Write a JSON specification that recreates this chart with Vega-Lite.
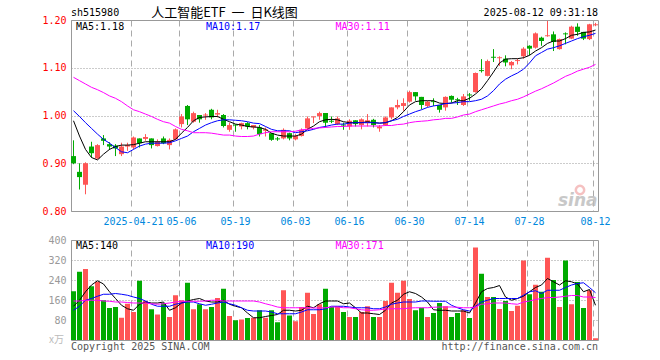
{
"$schema": "https://vega.github.io/schema/vega-lite/v6.json",
"background": "white",
"padding": {"left": 40, "top": 6, "right": 5, "bottom": 5},
"bounds": "flush",
"spacing": 29,
"config": {
  "view": {"stroke": "#999", "strokeWidth": 1},
  "font": "DejaVu Sans Mono",
  "axis": {"labelFont": "DejaVu Sans Mono", "labelFontSize": 10, "domain": false, "ticks": false, "title": null, "labelOverlap": false}
},
"datasets": {"k": [
{"d":"2025-04-07","o":0.915,"h":0.948,"l":0.898,"c":0.900,"v":195,"m5":0.989,"m10":1.010,"m30":1.080,"v5":135,"v10":119,"v30":156},
{"d":"2025-04-08","o":0.882,"h":0.900,"l":0.845,"c":0.871,"v":273,"m5":0.957,"m10":0.998,"m30":1.073,"v5":159,"v10":135,"v30":156},
{"d":"2025-04-09","o":0.855,"h":0.902,"l":0.835,"c":0.900,"v":284,"m5":0.929,"m10":0.985,"m30":1.066,"v5":193,"v10":159,"v30":159},
{"d":"2025-04-10","o":0.935,"h":0.945,"l":0.912,"c":0.921,"v":215,"m5":0.912,"m10":0.973,"m30":1.059,"v5":220,"v10":166,"v30":159},
{"d":"2025-04-11","o":0.910,"h":0.940,"l":0.908,"c":0.938,"v":233,"m5":0.907,"m10":0.961,"m30":1.054,"v5":237,"v10":175,"v30":159},
{"d":"2025-04-14","o":0.952,"h":0.959,"l":0.938,"c":0.947,"v":159,"m5":0.919,"m10":0.950,"m30":1.048,"v5":224,"v10":183,"v30":156},
{"d":"2025-04-15","o":0.940,"h":0.944,"l":0.928,"c":0.935,"v":128,"m5":0.929,"m10":0.942,"m30":1.041,"v5":193,"v10":183,"v30":155},
{"d":"2025-04-16","o":0.937,"h":0.940,"l":0.915,"c":0.931,"v":132,"m5":0.935,"m10":0.933,"m30":1.036,"v5":166,"v10":186,"v30":152},
{"d":"2025-04-17","o":0.919,"h":0.943,"l":0.915,"c":0.935,"v":89,"m5":0.938,"m10":0.924,"m30":1.029,"v5":139,"v10":183,"v30":152},
{"d":"2025-04-18","o":0.935,"h":0.943,"l":0.926,"c":0.938,"v":145,"m5":0.938,"m10":0.922,"m30":1.020,"v5":125,"v10":179,"v30":150},
{"d":"2025-04-21","o":0.933,"h":0.956,"l":0.929,"c":0.954,"v":112,"m5":0.939,"m10":0.929,"m30":1.012,"v5":119,"v10":172,"v30":148},
{"d":"2025-04-22","o":0.952,"h":0.952,"l":0.933,"c":0.942,"v":237,"m5":0.942,"m10":0.936,"m30":1.008,"v5":143,"v10":166,"v30":148},
{"d":"2025-04-23","o":0.951,"h":0.961,"l":0.947,"c":0.955,"v":156,"m5":0.945,"m10":0.940,"m30":1.003,"v5":152,"v10":156,"v30":148},
{"d":"2025-04-24","o":0.952,"h":0.952,"l":0.931,"c":0.938,"v":123,"m5":0.945,"m10":0.942,"m30":0.998,"v5":148,"v10":143,"v30":145},
{"d":"2025-04-25","o":0.936,"h":0.950,"l":0.935,"c":0.945,"v":102,"m5":0.945,"m10":0.942,"m30":0.992,"v5":148,"v10":135,"v30":143},
{"d":"2025-04-28","o":0.952,"h":0.956,"l":0.940,"c":0.942,"v":148,"m5":0.945,"m10":0.942,"m30":0.987,"v5":152,"v10":135,"v30":145},
{"d":"2025-04-29","o":0.938,"h":0.952,"l":0.929,"c":0.949,"v":92,"m5":0.945,"m10":0.943,"m30":0.984,"v5":119,"v10":135,"v30":148},
{"d":"2025-04-30","o":0.950,"h":0.973,"l":0.949,"c":0.971,"v":179,"m5":0.950,"m10":0.947,"m30":0.977,"v5":129,"v10":143,"v30":152},
{"d":"2025-05-06","o":0.982,"h":1.003,"l":0.975,"c":0.998,"v":159,"m5":0.963,"m10":0.952,"m30":0.971,"v5":148,"v10":148,"v30":155},
{"d":"2025-05-07","o":1.020,"h":1.022,"l":0.980,"c":0.992,"v":229,"m5":0.975,"m10":0.957,"m30":0.968,"v5":156,"v10":152,"v30":155},
{"d":"2025-05-08","o":0.987,"h":1.008,"l":0.985,"c":1.005,"v":123,"m5":0.989,"m10":0.966,"m30":0.964,"v5":162,"v10":152,"v30":155},
{"d":"2025-05-09","o":1.001,"h":1.001,"l":0.985,"c":0.992,"v":143,"m5":0.996,"m10":0.973,"m30":0.964,"v5":166,"v10":145,"v30":155},
{"d":"2025-05-12","o":1.000,"h":1.005,"l":0.991,"c":1.002,"v":123,"m5":0.997,"m10":0.980,"m30":0.964,"v5":156,"v10":139,"v30":156},
{"d":"2025-05-13","o":1.012,"h":1.014,"l":0.992,"c":0.996,"v":132,"m5":0.998,"m10":0.985,"m30":0.963,"v5":152,"v10":143,"v30":159},
{"d":"2025-05-14","o":1.002,"h":1.012,"l":0.996,"c":1.005,"v":168,"m5":0.998,"m10":0.989,"m30":0.961,"v5":152,"v10":148,"v30":159},
{"d":"2025-05-15","o":1.001,"h":1.003,"l":0.975,"c":0.978,"v":205,"m5":0.992,"m10":0.991,"m30":0.959,"v5":159,"v10":152,"v30":156},
{"d":"2025-05-16","o":0.970,"h":0.985,"l":0.966,"c":0.980,"v":96,"m5":0.987,"m10":0.991,"m30":0.959,"v5":143,"v10":145,"v30":156},
{"d":"2025-05-19","o":0.981,"h":0.981,"l":0.966,"c":0.979,"v":79,"m5":0.982,"m10":0.990,"m30":0.957,"v5":135,"v10":139,"v30":156},
{"d":"2025-05-20","o":0.977,"h":0.985,"l":0.971,"c":0.984,"v":82,"m5":0.980,"m10":0.989,"m30":0.956,"v5":129,"v10":129,"v30":156},
{"d":"2025-05-21","o":0.984,"h":0.986,"l":0.971,"c":0.977,"v":88,"m5":0.977,"m10":0.987,"m30":0.956,"v5":108,"v10":119,"v30":156},
{"d":"2025-05-22","o":0.975,"h":0.980,"l":0.971,"c":0.980,"v":89,"m5":0.976,"m10":0.984,"m30":0.957,"v5":89,"v10":116,"v30":156},
{"d":"2025-05-23","o":0.975,"h":0.980,"l":0.956,"c":0.961,"v":119,"m5":0.975,"m10":0.983,"m30":0.961,"v5":89,"v10":116,"v30":152},
{"d":"2025-05-26","o":0.968,"h":0.975,"l":0.956,"c":0.971,"v":89,"m5":0.971,"m10":0.977,"m30":0.964,"v5":94,"v10":116,"v30":145},
{"d":"2025-05-27","o":0.963,"h":0.963,"l":0.947,"c":0.949,"v":119,"m5":0.963,"m10":0.971,"m30":0.966,"v5":98,"v10":112,"v30":139},
{"d":"2025-05-28","o":0.952,"h":0.955,"l":0.947,"c":0.950,"v":71,"m5":0.959,"m10":0.968,"m30":0.966,"v5":102,"v10":105,"v30":132},
{"d":"2025-05-29","o":0.952,"h":0.973,"l":0.950,"c":0.970,"v":199,"m5":0.957,"m10":0.968,"m30":0.966,"v5":119,"v10":105,"v30":129},
{"d":"2025-05-30","o":0.963,"h":0.964,"l":0.948,"c":0.952,"v":98,"m5":0.957,"m10":0.968,"m30":0.966,"v5":119,"v10":105,"v30":129},
{"d":"2025-06-03","o":0.950,"h":0.961,"l":0.948,"c":0.957,"v":75,"m5":0.957,"m10":0.964,"m30":0.967,"v5":116,"v10":105,"v30":129},
{"d":"2025-06-04","o":0.957,"h":0.973,"l":0.956,"c":0.970,"v":132,"m5":0.961,"m10":0.966,"m30":0.970,"v5":119,"v10":112,"v30":129},
{"d":"2025-06-05","o":0.973,"h":0.998,"l":0.971,"c":0.994,"v":189,"m5":0.971,"m10":0.968,"m30":0.971,"v5":135,"v10":121,"v30":129},
{"d":"2025-06-06","o":0.996,"h":0.998,"l":0.984,"c":0.998,"v":104,"m5":0.978,"m10":0.971,"m30":0.973,"v5":129,"v10":121,"v30":128},
{"d":"2025-06-09","o":0.999,"h":1.008,"l":0.991,"c":1.005,"v":143,"m5":0.987,"m10":0.975,"m30":0.974,"v5":145,"v10":121,"v30":128},
{"d":"2025-06-10","o":1.005,"h":1.005,"l":0.975,"c":0.985,"v":205,"m5":0.991,"m10":0.977,"m30":0.975,"v5":156,"v10":125,"v30":129},
{"d":"2025-06-11","o":0.989,"h":0.998,"l":0.984,"c":0.987,"v":132,"m5":0.992,"m10":0.980,"m30":0.976,"v5":156,"v10":135,"v30":132},
{"d":"2025-06-12","o":0.982,"h":0.998,"l":0.980,"c":0.994,"v":135,"m5":0.991,"m10":0.982,"m30":0.977,"v5":156,"v10":135,"v30":132},
{"d":"2025-06-13","o":0.981,"h":0.985,"l":0.970,"c":0.979,"v":112,"m5":0.987,"m10":0.982,"m30":0.977,"v5":145,"v10":135,"v30":129},
{"d":"2025-06-16","o":0.977,"h":0.992,"l":0.970,"c":0.989,"v":92,"m5":0.985,"m10":0.984,"m30":0.978,"v5":148,"v10":132,"v30":129},
{"d":"2025-06-17","o":0.990,"h":0.990,"l":0.977,"c":0.982,"v":92,"m5":0.985,"m10":0.985,"m30":0.978,"v5":129,"v10":129,"v30":125},
{"d":"2025-06-18","o":0.980,"h":0.994,"l":0.971,"c":0.992,"v":112,"m5":0.985,"m10":0.985,"m30":0.978,"v5":108,"v10":129,"v30":121},
{"d":"2025-06-19","o":0.984,"h":1.003,"l":0.977,"c":0.990,"v":135,"m5":0.987,"m10":0.985,"m30":0.978,"v5":108,"v10":129,"v30":119},
{"d":"2025-06-20","o":0.991,"h":0.993,"l":0.975,"c":0.980,"v":92,"m5":0.985,"m10":0.985,"m30":0.978,"v5":105,"v10":125,"v30":119},
{"d":"2025-06-23","o":0.973,"h":0.980,"l":0.966,"c":0.977,"v":92,"m5":0.984,"m10":0.984,"m30":0.978,"v5":102,"v10":125,"v30":121},
{"d":"2025-06-24","o":0.980,"h":0.998,"l":0.978,"c":0.996,"v":156,"m5":0.985,"m10":0.985,"m30":0.979,"v5":119,"v10":132,"v30":124},
{"d":"2025-06-25","o":0.996,"h":1.017,"l":0.992,"c":1.017,"v":229,"m5":0.989,"m10":0.989,"m30":0.979,"v5":148,"v10":143,"v30":125},
{"d":"2025-06-26","o":1.017,"h":1.033,"l":1.013,"c":1.022,"v":189,"m5":0.996,"m10":0.992,"m30":0.981,"v5":159,"v10":148,"v30":125},
{"d":"2025-06-27","o":1.020,"h":1.036,"l":1.010,"c":1.026,"v":237,"m5":1.008,"m10":0.998,"m30":0.982,"v5":183,"v10":152,"v30":125},
{"d":"2025-06-30","o":1.029,"h":1.052,"l":1.027,"c":1.049,"v":164,"m5":1.022,"m10":1.003,"m30":0.985,"v5":193,"v10":152,"v30":128},
{"d":"2025-07-01","o":1.049,"h":1.049,"l":1.031,"c":1.040,"v":119,"m5":1.029,"m10":1.008,"m30":0.987,"v5":186,"v10":152,"v30":129},
{"d":"2025-07-02","o":1.039,"h":1.039,"l":1.013,"c":1.022,"v":129,"m5":1.031,"m10":1.012,"m30":0.988,"v5":172,"v10":156,"v30":129},
{"d":"2025-07-03","o":1.020,"h":1.031,"l":1.017,"c":1.029,"v":92,"m5":1.031,"m10":1.017,"m30":0.989,"v5":152,"v10":156,"v30":129},
{"d":"2025-07-04","o":1.030,"h":1.036,"l":1.020,"c":1.028,"v":108,"m5":1.031,"m10":1.020,"m30":0.991,"v5":121,"v10":155,"v30":131},
{"d":"2025-07-07","o":1.022,"h":1.022,"l":1.006,"c":1.012,"v":148,"m5":1.026,"m10":1.022,"m30":0.992,"v5":119,"v10":155,"v30":132},
{"d":"2025-07-08","o":1.017,"h":1.040,"l":1.010,"c":1.039,"v":135,"m5":1.025,"m10":1.025,"m30":0.994,"v5":119,"v10":155,"v30":132},
{"d":"2025-07-09","o":1.041,"h":1.042,"l":1.027,"c":1.033,"v":92,"m5":1.026,"m10":1.026,"m30":0.994,"v5":116,"v10":139,"v30":132},
{"d":"2025-07-10","o":1.034,"h":1.037,"l":1.022,"c":1.032,"v":108,"m5":1.031,"m10":1.027,"m30":0.997,"v5":116,"v10":129,"v30":131},
{"d":"2025-07-11","o":1.022,"h":1.045,"l":1.020,"c":1.040,"v":119,"m5":1.031,"m10":1.029,"m30":1.001,"v5":116,"v10":121,"v30":129},
{"d":"2025-07-14","o":1.044,"h":1.047,"l":1.031,"c":1.042,"v":88,"m5":1.036,"m10":1.029,"m30":1.003,"v5":108,"v10":116,"v30":129},
{"d":"2025-07-15","o":1.049,"h":1.090,"l":1.048,"c":1.089,"v":370,"m5":1.045,"m10":1.031,"m30":1.008,"v5":148,"v10":135,"v30":132},
{"d":"2025-07-16","o":1.095,"h":1.118,"l":1.090,"c":1.093,"v":265,"m5":1.056,"m10":1.034,"m30":1.012,"v5":193,"v10":152,"v30":143},
{"d":"2025-07-17","o":1.083,"h":1.117,"l":1.082,"c":1.114,"v":172,"m5":1.073,"m10":1.041,"m30":1.016,"v5":206,"v10":159,"v30":145},
{"d":"2025-07-18","o":1.123,"h":1.139,"l":1.112,"c":1.121,"v":172,"m5":1.091,"m10":1.052,"m30":1.020,"v5":210,"v10":166,"v30":148},
{"d":"2025-07-21","o":1.120,"h":1.124,"l":1.104,"c":1.122,"v":124,"m5":1.110,"m10":1.066,"m30":1.024,"v5":218,"v10":166,"v30":148},
{"d":"2025-07-22","o":1.119,"h":1.126,"l":1.103,"c":1.111,"v":156,"m5":1.118,"m10":1.076,"m30":1.027,"v5":172,"v10":166,"v30":148},
{"d":"2025-07-23","o":1.105,"h":1.114,"l":1.097,"c":1.112,"v":116,"m5":1.119,"m10":1.083,"m30":1.031,"v5":159,"v10":166,"v30":145},
{"d":"2025-07-24","o":1.114,"h":1.119,"l":1.107,"c":1.116,"v":137,"m5":1.119,"m10":1.089,"m30":1.034,"v5":166,"v10":166,"v30":143},
{"d":"2025-07-25","o":1.124,"h":1.143,"l":1.119,"c":1.140,"v":318,"m5":1.121,"m10":1.097,"m30":1.039,"v5":175,"v10":179,"v30":152},
{"d":"2025-07-28","o":1.146,"h":1.147,"l":1.126,"c":1.140,"v":183,"m5":1.126,"m10":1.110,"m30":1.045,"v5":193,"v10":193,"v30":156},
{"d":"2025-07-29","o":1.142,"h":1.174,"l":1.140,"c":1.172,"v":221,"m5":1.135,"m10":1.125,"m30":1.051,"v5":210,"v10":197,"v30":162},
{"d":"2025-07-30","o":1.163,"h":1.165,"l":1.146,"c":1.156,"v":193,"m5":1.142,"m10":1.132,"m30":1.056,"v5":220,"v10":186,"v30":166},
{"d":"2025-07-31","o":1.166,"h":1.198,"l":1.165,"c":1.168,"v":329,"m5":1.151,"m10":1.139,"m30":1.062,"v5":246,"v10":199,"v30":170},
{"d":"2025-08-01","o":1.170,"h":1.176,"l":1.135,"c":1.154,"v":240,"m5":1.156,"m10":1.142,"m30":1.068,"v5":233,"v10":199,"v30":170},
{"d":"2025-08-04","o":1.139,"h":1.161,"l":1.138,"c":1.160,"v":132,"m5":1.156,"m10":1.146,"m30":1.075,"v5":220,"v10":199,"v30":172},
{"d":"2025-08-05","o":1.172,"h":1.174,"l":1.149,"c":1.170,"v":318,"m5":1.161,"m10":1.151,"m30":1.082,"v5":237,"v10":210,"v30":175},
{"d":"2025-08-06","o":1.161,"h":1.188,"l":1.160,"c":1.186,"v":143,"m5":1.168,"m10":1.156,"m30":1.087,"v5":233,"v10":220,"v30":178},
{"d":"2025-08-07","o":1.186,"h":1.193,"l":1.167,"c":1.175,"v":232,"m5":1.170,"m10":1.161,"m30":1.093,"v5":224,"v10":226,"v30":178},
{"d":"2025-08-08","o":1.175,"h":1.175,"l":1.158,"c":1.161,"v":128,"m5":1.174,"m10":1.165,"m30":1.097,"v5":193,"v10":229,"v30":172},
{"d":"2025-08-11","o":1.160,"h":1.192,"l":1.158,"c":1.191,"v":199,"m5":1.175,"m10":1.168,"m30":1.101,"v5":202,"v10":210,"v30":172},
{"d":"2025-08-12","o":1.189,"h":1.194,"l":1.187,"c":1.191,"v":7,"m5":1.179,"m10":1.172,"m30":1.107,"v5":139,"v10":189,"v30":170}
]},
"vconcat": [
{
  "width": 527, "height": 191,
  "layer": [
    {"data": {"name": "k"}, "mark": {"type": "rule", "strokeWidth": 1},
     "encoding": {
       "x": {"field": "d", "type": "ordinal", "scale": {"type": "band", "paddingInner": 0.1667, "paddingOuter": 0},
             "axis": {"values": ["2025-04-21","2025-05-06","2025-05-19","2025-06-03","2025-06-16","2025-06-30","2025-07-14","2025-07-28","2025-08-12"],
                      "bandPosition": 0, "labelAngle": 0, "labelColor": "#0088dd", "labelPadding": 5, "labelOverlap": false,
                      "labelExpr": "datum.value == '2025-04-21' ? datum.value : slice(datum.value, 5)",
                      "grid": true, "gridDash": [6, 4], "gridColor": "#aaa", "title": null}},
       "y": {"field": "l", "type": "quantitative", "scale": {"domain": [0.8, 1.2], "zero": false, "nice": false},
             "axis": {"values": [0.8, 0.9, 1.0, 1.1, 1.2], "tickCount": 10, "format": ".2f", "labelColor": "#ff0000", "labelPadding": 5, "labelOverlap": false,
                      "grid": true, "gridDash": [1, 2], "gridColor": "#999", "minExtent": 30, "title": null}},
       "y2": {"field": "h"},
       "color": {"condition": {"test": "datum.c >= datum.o", "value": "#ff5555"}, "value": "#00aa00"}
     }},
    {"data": {"name": "k"}, "mark": {"type": "bar"},
     "encoding": {
       "x": {"field": "d", "type": "ordinal"},
       "y": {"field": "o", "type": "quantitative"},
       "y2": {"field": "c"},
       "color": {"condition": {"test": "datum.c >= datum.o", "value": "#ff5555"}, "value": "#00aa00"}
     }},
    {"data": {"name": "k"}, "mark": {"type": "line", "color": "#000000", "strokeWidth": 1},
     "encoding": {"x": {"field": "d", "type": "ordinal"}, "y": {"field": "m5", "type": "quantitative"}}},
    {"data": {"name": "k"}, "mark": {"type": "line", "color": "#0000ff", "strokeWidth": 1},
     "encoding": {"x": {"field": "d", "type": "ordinal"}, "y": {"field": "m10", "type": "quantitative"}}},
    {"data": {"name": "k"}, "mark": {"type": "line", "color": "#ff00ff", "strokeWidth": 1},
     "encoding": {"x": {"field": "d", "type": "ordinal"}, "y": {"field": "m30", "type": "quantitative"}}},
    {"data": {"values": [{"t": "MA5:1.18", "x": "2025-04-07"}]},
     "mark": {"type": "text", "align": "left", "baseline": "middle", "dx": 2.5, "dy": 7, "fontSize": 10, "font": "DejaVu Sans Mono", "color": "#000000"},
     "encoding": {"x": {"field": "x", "type": "ordinal"}, "y": {"datum": 1.2, "type": "quantitative"}, "text": {"field": "t"}}},
    {"data": {"values": [{"t": "MA10:1.17", "x": "2025-05-12"}]},
     "mark": {"type": "text", "align": "left", "baseline": "middle", "dx": 0.5, "dy": 7, "fontSize": 10, "font": "DejaVu Sans Mono", "color": "#0000ff"},
     "encoding": {"x": {"field": "x", "type": "ordinal"}, "y": {"datum": 1.2, "type": "quantitative"}, "text": {"field": "t"}}},
    {"data": {"values": [{"t": "MA30:1.11", "x": "2025-06-12"}]},
     "mark": {"type": "text", "align": "left", "baseline": "middle", "dx": -2, "dy": 7, "fontSize": 10, "font": "DejaVu Sans Mono", "color": "#ff00ff"},
     "encoding": {"x": {"field": "x", "type": "ordinal"}, "y": {"datum": 1.2, "type": "quantitative"}, "text": {"field": "t"}}},
    {"data": {"values": [{"t": "sh515980", "x": "2025-04-07"}]},
     "mark": {"type": "text", "align": "left", "baseline": "middle", "dx": -2.5, "dy": -7, "fontSize": 10, "font": "DejaVu Sans Mono", "color": "#000000"},
     "encoding": {"x": {"field": "x", "type": "ordinal"}, "y": {"datum": 1.2, "type": "quantitative"}, "text": {"field": "t"}}},
    {"data": {"values": [{"t": "人工智能ETF\u00a0\u00a0一\u00a0\u00a0日K线图", "x": "2025-05-15"}]},
     "mark": {"type": "text", "align": "center", "baseline": "middle", "dx": 1, "dy": -7.5, "fontSize": 13, "font": "Noto Sans CJK SC", "color": "#000000"},
     "encoding": {"x": {"field": "x", "type": "ordinal"}, "y": {"datum": 1.2, "type": "quantitative"}, "text": {"field": "t"}}},
    {"data": {"values": [{"t": "2025-08-12 09:31:18", "x": "2025-08-12"}]},
     "mark": {"type": "text", "align": "right", "baseline": "middle", "dx": 2.5, "dy": -7, "fontSize": 10, "font": "DejaVu Sans Mono", "color": "#000000"},
     "encoding": {"x": {"field": "x", "type": "ordinal"}, "y": {"datum": 1.2, "type": "quantitative"}, "text": {"field": "t"}}},
    {"data": {"values": [{"x": "2025-08-07"}]},
     "mark": {"type": "point", "shape": "circle", "filled": false, "size": 70, "strokeWidth": 2.5, "color": "#f2a8a8", "opacity": 0.7, "xOffset": 2.5, "yOffset": -21},
     "encoding": {"x": {"field": "x", "type": "ordinal"}, "y": {"datum": 0.8, "type": "quantitative"}}},
    {"data": {"values": [{"t": "sina", "x": "2025-08-12"}]},
     "mark": {"type": "text", "align": "right", "baseline": "middle", "dx": 2, "dy": -10, "fontSize": 17, "fontWeight": "bold", "fontStyle": "italic", "font": "DejaVu Sans", "color": "#bbbbbb", "opacity": 0.8},
     "encoding": {"x": {"field": "x", "type": "ordinal"}, "y": {"datum": 0.8, "type": "quantitative"}, "text": {"field": "t"}}}
  ]
},
{
  "width": 527, "height": 100,
  "layer": [
    {"data": {"name": "k"}, "mark": {"type": "bar"},
     "encoding": {
       "x": {"field": "d", "type": "ordinal", "scale": {"type": "band", "paddingInner": 0.1667, "paddingOuter": 0},
             "axis": {"values": ["2025-04-21","2025-05-06","2025-05-19","2025-06-03","2025-06-16","2025-06-30","2025-07-14","2025-07-28","2025-08-12"],
                      "bandPosition": 0, "labels": false, "grid": true, "gridDash": [6, 4], "gridColor": "#aaa", "title": null}},
       "y": {"field": "v", "type": "quantitative", "scale": {"domain": [0, 400], "nice": false},
             "axis": {"values": [80, 160, 240, 320, 400], "tickCount": 10, "labelColor": "#999999", "labelPadding": 5, "labelOverlap": false,
                      "grid": true, "gridDash": [1, 2], "gridColor": "#999", "minExtent": 30, "title": null}},
       "color": {"condition": {"test": "datum.c >= datum.o", "value": "#ff5555"}, "value": "#00aa00"}
     }},
    {"data": {"name": "k"}, "mark": {"type": "line", "color": "#000000", "strokeWidth": 1},
     "encoding": {"x": {"field": "d", "type": "ordinal"}, "y": {"field": "v5", "type": "quantitative"}}},
    {"data": {"name": "k"}, "mark": {"type": "line", "color": "#0000ff", "strokeWidth": 1},
     "encoding": {"x": {"field": "d", "type": "ordinal"}, "y": {"field": "v10", "type": "quantitative"}}},
    {"data": {"name": "k"}, "mark": {"type": "line", "color": "#ff00ff", "strokeWidth": 1},
     "encoding": {"x": {"field": "d", "type": "ordinal"}, "y": {"field": "v30", "type": "quantitative"}}},
    {"data": {"values": [{"t": "MA5:140", "x": "2025-04-07"}]},
     "mark": {"type": "text", "align": "left", "baseline": "middle", "dx": 2.5, "dy": 6, "fontSize": 10, "font": "DejaVu Sans Mono", "color": "#000000"},
     "encoding": {"x": {"field": "x", "type": "ordinal"}, "y": {"datum": 400, "type": "quantitative"}, "text": {"field": "t"}}},
    {"data": {"values": [{"t": "MA10:190", "x": "2025-05-12"}]},
     "mark": {"type": "text", "align": "left", "baseline": "middle", "dx": 0.5, "dy": 6, "fontSize": 10, "font": "DejaVu Sans Mono", "color": "#0000ff"},
     "encoding": {"x": {"field": "x", "type": "ordinal"}, "y": {"datum": 400, "type": "quantitative"}, "text": {"field": "t"}}},
    {"data": {"values": [{"t": "MA30:171", "x": "2025-06-12"}]},
     "mark": {"type": "text", "align": "left", "baseline": "middle", "dx": -2, "dy": 6, "fontSize": 10, "font": "DejaVu Sans Mono", "color": "#ff00ff"},
     "encoding": {"x": {"field": "x", "type": "ordinal"}, "y": {"datum": 400, "type": "quantitative"}, "text": {"field": "t"}}},
    {"data": {"values": [{"t": "x万", "x": "2025-04-07"}]},
     "mark": {"type": "text", "align": "right", "baseline": "middle", "dx": -9.5, "dy": 0, "fontSize": 10, "font": "Noto Sans CJK SC", "color": "#bbbbbb"},
     "encoding": {"x": {"field": "x", "type": "ordinal"}, "y": {"datum": 0, "type": "quantitative"}, "text": {"field": "t"}}},
    {"data": {"values": [{"t": "Copyright 2025 SINA.COM", "x": "2025-04-07"}]},
     "mark": {"type": "text", "align": "left", "baseline": "middle", "dx": -2.5, "dy": 7, "fontSize": 10, "font": "DejaVu Sans Mono", "color": "#555555"},
     "encoding": {"x": {"field": "x", "type": "ordinal"}, "y": {"datum": 0, "type": "quantitative"}, "text": {"field": "t"}}},
    {"data": {"values": [{"t": "http://finance.sina.com.cn", "x": "2025-08-12"}]},
     "mark": {"type": "text", "align": "right", "baseline": "middle", "dx": 2.5, "dy": 7, "fontSize": 10, "font": "DejaVu Sans Mono", "color": "#555555"},
     "encoding": {"x": {"field": "x", "type": "ordinal"}, "y": {"datum": 0, "type": "quantitative"}, "text": {"field": "t"}}}
  ]
}
]
}
